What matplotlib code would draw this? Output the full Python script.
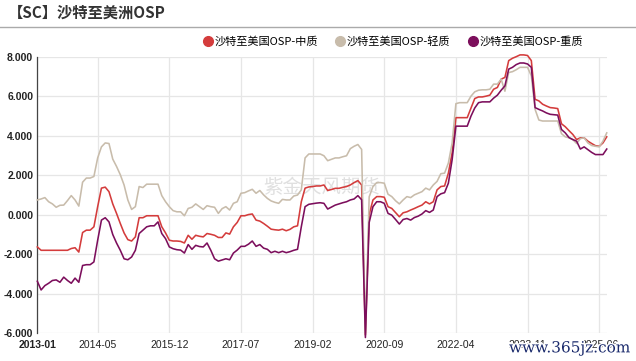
import matplotlib
matplotlib.use("Agg")
import matplotlib.pyplot as plt
import matplotlib.patheffects as pe
from matplotlib.lines import Line2D
import numpy as np
import pandas as pd

plt.rcParams['font.family'] = ['Noto Sans CJK SC', 'DejaVu Sans']

# ---------------- data ----------------
months = [p.strftime('%Y-%m') for p in pd.period_range('2013-01', '2025-08', freq='M')]

light = [
    0.74, 0.79, 0.86, 0.65, 0.54, 0.37, 0.47, 0.48, 0.71, 0.96, 0.74, 0.43,
    1.64, 1.85, 1.85, 1.93, 2.87, 3.43, 3.63, 3.60, 2.81, 2.44, 2.02, 1.50,
    0.74, 0.26, 0.40, 1.42, 1.37, 1.54, 1.54, 1.54, 1.54, 0.96, 0.65, 0.40,
    0.20, 0.14, 0.14, -0.06, 0.31, 0.37, 0.54, 0.40, 0.26, 0.45, 0.40, 0.37,
    0.06, 0.30, 0.40, 0.23, 0.57, 0.65, 1.08, 1.11, 1.20, 1.28, 1.08, 1.22,
    1.00, 0.82, 0.69, 0.62, 0.57, 0.77, 0.74, 0.74, 0.94, 0.99, 1.25, 2.87,
    3.07, 3.07, 3.07, 3.07, 2.98, 2.73, 2.80, 2.87, 2.87, 2.93, 2.98, 3.34,
    3.46, 3.55, 3.30, -6.00, 0.90, 1.42, 1.62, 1.62, 1.59, 1.03, 0.91, 0.70,
    0.54, 0.74, 0.91, 0.86, 1.00, 1.08, 1.16, 1.34, 1.25, 1.50, 1.68, 2.07,
    2.10, 2.61, 3.63, 5.62, 5.67, 5.67, 5.67, 6.00, 6.22, 6.30, 6.32, 6.32,
    6.35, 6.61, 6.61, 6.86, 6.25, 7.20, 7.24, 7.34, 7.46, 7.46, 7.46, 7.03,
    5.33, 4.79, 4.74, 4.74, 4.74, 4.74, 4.74, 4.10, 3.94, 3.89, 3.80, 3.60,
    3.85, 3.89, 3.63, 3.50, 3.46, 3.43, 3.72, 4.14,
]

medium = [
    -1.64, -1.81, -1.81, -1.81, -1.81, -1.81, -1.81, -1.81, -1.81, -1.72, -1.68, -1.90,
    -0.91, -0.79, -0.79, -0.62, 0.40, 1.34, 1.39, 1.16, 0.54, 0.06, -0.45, -0.93,
    -1.27, -1.34, -1.13, -0.16, -0.16, -0.06, -0.06, -0.06, -0.06, -0.62, -0.93, -1.30,
    -1.34, -1.34, -1.36, -1.44, -1.05, -1.25, -1.05, -1.10, -1.13, -0.96, -1.00, -1.05,
    -1.16, -1.16, -0.93, -0.99, -0.62, -0.40, -0.06, -0.06, 0.00, 0.03, -0.28, -0.33,
    -0.45, -0.59, -0.74, -0.77, -0.79, -0.74, -0.82, -0.75, -0.62, -0.57, 0.65, 1.34,
    1.40, 1.42, 1.45, 1.45, 1.50, 1.22, 1.27, 1.33, 1.33, 1.38, 1.42, 1.50,
    1.62, 1.72, 1.50, -6.10, 0.00, 0.74, 0.91, 0.91, 0.88, 0.40, 0.31, 0.10,
    -0.11, 0.09, 0.14, 0.23, 0.31, 0.40, 0.48, 0.65, 0.54, 0.65, 1.25, 1.42,
    1.45, 2.10, 3.12, 4.91, 4.91, 4.91, 4.91, 5.40, 5.88, 5.96, 5.96, 6.00,
    6.05, 6.35, 6.44, 6.86, 6.95, 7.80, 7.92, 8.00, 8.09, 8.09, 8.06, 7.80,
    5.84, 5.76, 5.59, 5.50, 5.42, 5.40, 5.37, 4.60, 4.45, 4.25, 4.06, 3.80,
    3.89, 3.89, 3.72, 3.60, 3.49, 3.46, 3.63, 3.94,
]

heavy = [
    -3.38, -3.82, -3.60, -3.48, -3.34, -3.31, -3.43, -3.17, -3.34, -3.48, -3.22, -3.43,
    -2.58, -2.54, -2.54, -2.40, -1.30, -0.28, -0.16, -0.37, -1.01, -1.44, -1.81, -2.24,
    -2.29, -2.15, -1.81, -0.96, -0.79, -0.62, -0.57, -0.57, -0.37, -0.96, -1.22, -1.64,
    -1.73, -1.78, -1.80, -1.95, -1.52, -1.76, -1.56, -1.62, -1.64, -1.44, -1.81, -2.24,
    -2.36, -2.30, -2.24, -2.29, -1.95, -1.80, -1.61, -1.61, -1.50, -1.34, -1.61, -1.52,
    -1.70, -1.76, -1.93, -1.86, -1.93, -1.86, -1.93, -1.88, -1.81, -1.76, -0.62, 0.40,
    0.52, 0.55, 0.58, 0.60, 0.57, 0.28, 0.38, 0.48, 0.54, 0.60, 0.65, 0.74,
    0.79, 0.96, 0.75, -6.23, -0.40, 0.40, 0.65, 0.65, 0.57, 0.06, -0.03, -0.25,
    -0.48, -0.25, -0.20, -0.28, -0.15, -0.08, 0.03, 0.20, 0.11, 0.23, 0.91, 1.05,
    1.11, 1.59, 2.78, 4.48, 4.48, 4.48, 4.48, 4.99, 5.40, 5.67, 5.71, 5.71,
    5.71, 5.90, 6.05, 6.30, 6.52, 7.37, 7.46, 7.60, 7.68, 7.68, 7.63, 7.46,
    5.42, 5.33, 5.25, 5.15, 5.08, 5.06, 5.04, 4.31, 4.14, 3.90, 3.80, 3.72,
    3.32, 3.43, 3.29, 3.15, 3.04, 3.04, 3.04, 3.32,
]

series_names = ['沙特至美国OSP-中质', '沙特至美国OSP-轻质', '沙特至美国OSP-重质']
series_colors = ['#d43c3c', '#c8bcab', '#7c0e5c']
x_tick_labels = ['2013-01', '2014-05', '2015-12', '2017-07', '2019-02',
                 '2020-09', '2022-04', '2023-11', '2025-06']
y_ticks = [-6, -4, -2, 0, 2, 4, 6, 8]
title_text = '【SC】沙特至美洲OSP'

# ---------------- figure ----------------
fig = plt.figure(figsize=(6.36, 3.61), dpi=100)
ax = fig.add_axes([0.0587, 0.0776, 0.954 - 0.0587, 0.843 - 0.0776])

x = np.arange(len(months))
data = {series_names[0]: medium, series_names[1]: light, series_names[2]: heavy}
order = [1, 0, 2]
for i in order:
    ax.plot(x, data[series_names[i]], color=series_colors[i], lw=1.15,
            clip_on=False, zorder=3 + i, solid_joinstyle='round')

ax.set_xlim(0, len(months) - 1)
ax.set_ylim(-6, 8)
ax.set_yticks(y_ticks)
ax.set_yticklabels([f'{v:.3f}' for v in y_ticks], fontfamily='Liberation Sans',
                   fontsize=7.5, fontweight='bold', color='#222222')
tick_pos = [months.index(t) for t in x_tick_labels]
ax.set_xticks(tick_pos)
ax.set_xticklabels(x_tick_labels, fontfamily='Liberation Sans', fontsize=7.5,
                   color='#222222')
ax.get_xticklabels()[0].set_fontweight('bold')
ax.tick_params(axis='both', length=0, pad=5)
ax.tick_params(axis='y', pad=3)

ax.grid(True, color='#e6e6e6', lw=0.9)
ax.set_axisbelow(True)
for s in ['top', 'right', 'bottom']:
    ax.spines[s].set_visible(False)
ax.spines['left'].set_color('#444444')
ax.spines['left'].set_linewidth(0.9)

# watermark in plot
ax.text(0.50, 0.525, '紫金天风期货', transform=ax.transAxes, fontsize=14,
        color='#e0e0e0', ha='center', va='center', zorder=2)

# title and separator line
fig.text(0.012, 0.965, title_text, fontsize=11, fontweight='bold',
         color='#333333', ha='left', va='center')
fig.add_artist(Line2D([0, 1], [1 - 27 / 361, 1 - 27 / 361], color='#aaaaaa', lw=1,
                      transform=fig.transFigure))

# legend
handles = [Line2D([], [], ls='none', marker='o', markersize=7,
                  markerfacecolor=c, markeredgecolor=c) for c in series_colors]
fig.legend(handles, series_names, loc='center right', bbox_to_anchor=(0.925, 0.884),
           ncol=3, frameon=False, fontsize=8, handletextpad=0.1, columnspacing=1.5,
           borderpad=0, handlelength=1.0)

# site watermark
fig.text(0.895, 0.035, 'www.365jz.com', fontsize=11, color='#1a2a6c',
         fontfamily='DejaVu Serif', ha='center', va='center',
         path_effects=[pe.withStroke(linewidth=2, foreground='white')])

fig.savefig('out.png', dpi=100)
